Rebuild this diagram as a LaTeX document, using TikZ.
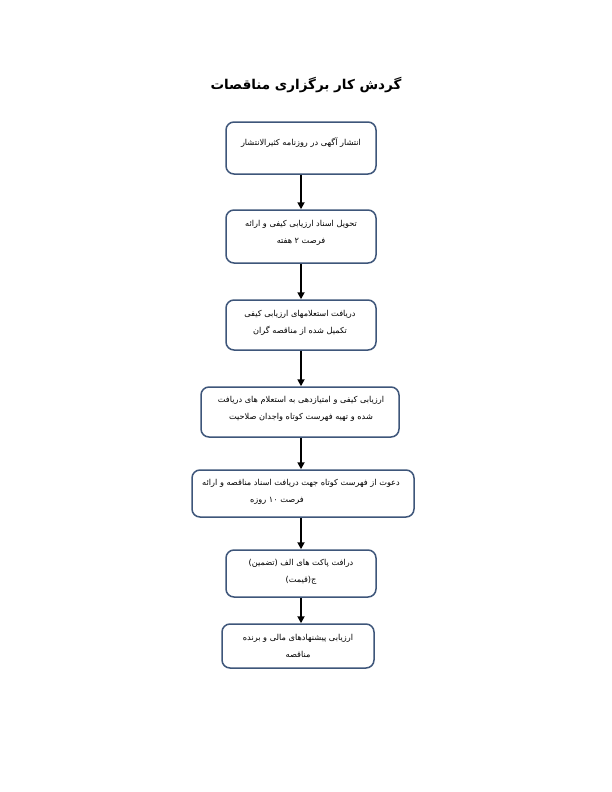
\documentclass[tikz,border=0pt]{standalone}
\usepackage{fontspec}
\usetikzlibrary{arrows.meta}
\TeXXeTstate=1
\newfontfamily\arfont[Script=Arabic]{DejaVu Sans}
\definecolor{boxline}{RGB}{62,86,122}
\tikzset{
  stepbox/.style={draw=boxline, line width=1.5pt, rounded corners=8pt, fill=white, inner sep=0pt},
  lbl/.style={font=\arfont\fontsize{8.2}{17}\selectfont, align=center, inner sep=0pt, text=black},
  flow/.style={draw=black, line width=2.2pt, -{Triangle[length=7pt,width=7pt]}}
}
\begin{document}
\begin{tikzpicture}[x=1pt,y=-1pt]
\useasboundingbox (0,0) rectangle (612,792);
\node[font=\arfont\bfseries\fontsize{13.5}{16}\selectfont, inner sep=0pt] (title) at (306,85) {\beginR گردش کار برگزاری مناقصات\endR};

\node[stepbox, minimum width=150pt, minimum height=52pt] (b1) at (301,148) {};
\node[stepbox, minimum width=150pt, minimum height=53pt] (b2) at (301,236.5) {};
\node[stepbox, minimum width=150pt, minimum height=50pt] (b3) at (301,325) {};
\node[stepbox, minimum width=198pt, minimum height=50pt] (b4) at (300,412) {};
\node[stepbox, minimum width=222pt, minimum height=47pt] (b5) at (303,493.5) {};
\node[stepbox, minimum width=150pt, minimum height=47pt] (b6) at (301,573.5) {};
\node[stepbox, minimum width=152pt, minimum height=44pt] (b7) at (298,646) {};

\node[lbl] (t1) at (301,143) {\beginR انتشار آگهی در روزنامه کثیرالانتشار\endR};
\node[lbl] (t2) at (301,233) {\beginR تحویل اسناد ارزیابی کیفی و ارائه\endR\\\beginR فرصت ۲ هفته\endR};
\node[lbl] (t3) at (300,322.5) {\beginR دریافت استعلامهای ارزیابی کیفی\endR\\\beginR تکمیل شده از مناقصه گران\endR};
\node[lbl] (t4) at (301,409) {\beginR ارزیابی کیفی و امتیازدهی به استعلام های دریافت\endR\\\beginR شده و تهیه فهرست کوتاه واجدان صلاحیت\endR};
\node[lbl] (t5a) at (301,483) {\beginR دعوت از فهرست کوتاه جهت دریافت اسناد مناقصه و ارائه\endR};
\node[lbl] (t5b) at (277,501) {\beginR فرصت ۱۰ روزه\endR};
\node[lbl] (t6) at (301,571.5) {\beginR درافت پاکت های الف (تضمین)\endR\\\beginR ج(قیمت)\endR};
\node[lbl] (t7) at (298,646) {\beginR ارزیابی پیشنهادهای مالی و برنده\endR\\\beginR مناقصه\endR};

\draw[flow] (b1.south) -- (b2.north);
\draw[flow] (b2.south) -- (b3.north);
\draw[flow] (b3.south) -- (b4.north -| b3.south);
\draw[flow] (b4.south -| b3.south) -- (b5.north -| b3.south);
\draw[flow] (b5.south -| b3.south) -- (b6.north);
\draw[flow] (b6.south) -- (b7.north -| b6.south);
\end{tikzpicture}
\end{document}
